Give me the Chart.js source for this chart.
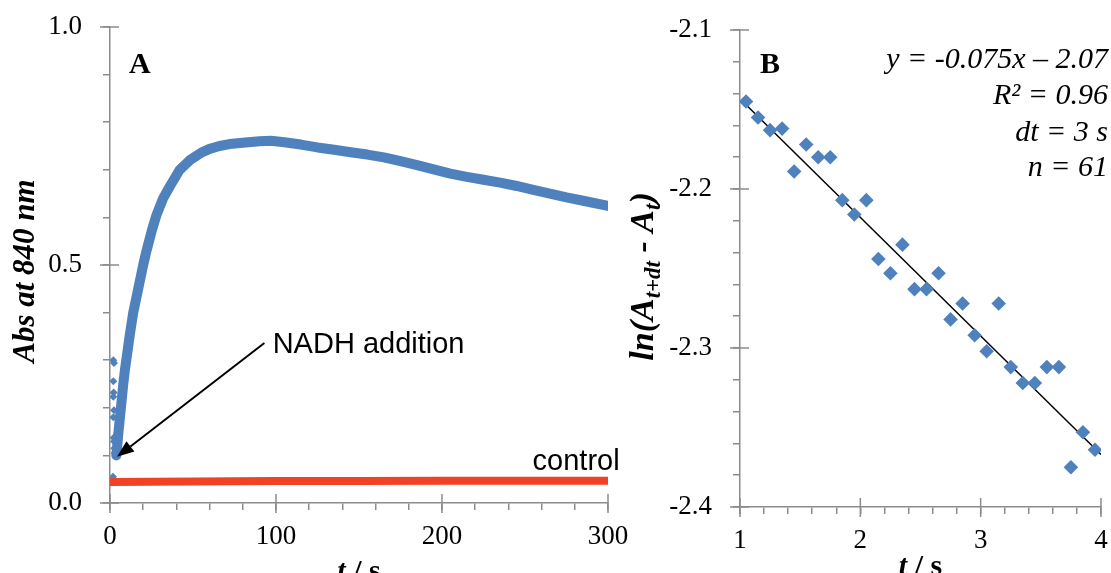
<!DOCTYPE html>
<html>
<head>
<meta charset="utf-8">
<script src="https://cdn.jsdelivr.net/npm/chart.js@4.4.1/dist/chart.umd.min.js"></script>
<style>
  html, body { margin: 0; padding: 0; background: #fff; }
  #wrap { position: relative; width: 1111px; height: 573px; overflow: hidden; }
  #panel-a { position: absolute; left: 0; top: 0; }
  #panel-b { position: absolute; left: 620px; top: 0; }
</style>
</head>
<body>
<div id="wrap">
  <canvas id="panel-a" width="640" height="573"></canvas>
  <canvas id="panel-b" width="491" height="573"></canvas>
</div>
<script>
// Panel A: absorbance at 840 nm vs time
const traceTime = [3.8, 4.5, 5, 6, 7, 8, 9, 10, 12, 14, 17, 20, 22, 25, 28, 32, 36, 42, 48, 55, 60, 66, 72, 80, 90, 97,
                   105, 115, 125, 135, 145, 155, 165, 175, 185, 195, 205, 215, 225, 235, 245, 255, 265, 275, 285, 300];
const traceAbs = [0.100, 0.125, 0.145, 0.180, 0.215, 0.250, 0.280, 0.305, 0.355, 0.400, 0.450, 0.500, 0.530, 0.570, 0.605, 0.640, 0.665, 0.700, 0.720, 0.736, 0.744, 0.750, 0.754, 0.757, 0.760, 0.761,
                  0.758, 0.753, 0.747, 0.742, 0.737, 0.732, 0.726, 0.718, 0.710, 0.701, 0.692, 0.685, 0.679, 0.673, 0.666, 0.658, 0.650, 0.642, 0.635, 0.624];
// scattered readings while mixing, right at the NADH addition
const mixTime = [1.8, 2.0, 2.4, 2.0, 2.2, 2.0, 2.4, 2.0, 2.2, 2.4, 2.6, 2.8];
const mixAbs = [0.055, 0.300, 0.294, 0.256, 0.232, 0.223, 0.195, 0.180, 0.137, 0.129, 0.115, 0.105];
const controlTime = [0, 50, 100, 150, 200, 250, 300];
const controlAbs = [0.044, 0.045, 0.046, 0.046, 0.047, 0.047, 0.047];
const absTicks = [0, 0.5, 1.0];
const timeTicksA = [0, 100, 200, 300];

// Panel B: ln(A(t+dt) - A(t)) vs time
const lnTime = [1.05, 1.15, 1.25, 1.35, 1.45, 1.55, 1.65, 1.75, 1.85, 1.95, 2.05, 2.15, 2.25, 2.35, 2.45,
                2.55, 2.65, 2.75, 2.85, 2.95, 3.05, 3.15, 3.25, 3.35, 3.45, 3.55, 3.65, 3.75, 3.85, 3.95];
const lnDiff = [-2.145, -2.155, -2.163, -2.162, -2.189, -2.172, -2.180, -2.180, -2.207, -2.216, -2.207, -2.244, -2.253, -2.235, -2.263,
                -2.263, -2.253, -2.282, -2.272, -2.292, -2.302, -2.272, -2.312, -2.322, -2.322, -2.312, -2.312, -2.375, -2.353, -2.364];
const fitTime = [1.05, 4.0];
const fitValue = [-2.147, -2.367];
const fitText = ['y = -0.075x \u2013 2.07', 'R\u00B2 = 0.96', 'dt = 3 s', 'n = 61'];
const lnTicks = [-2.4, -2.3, -2.2, -2.1];
const timeTicksB = [1, 2, 3, 4];

const BLUE = '#4F81BD';
const RED = '#F04226';
const AXIS_GREY = '#8C8C8C';
const SERIF = '"Liberation Serif", "Times New Roman", serif';
const SANS = '"Liberation Sans", Arial, sans-serif';

Chart.defaults.font.family = SERIF;
Chart.defaults.color = '#000';

function pairs(xs, ys) {
    return xs.map((x, i) => ({ x: x, y: ys[i] }));
}

function isMajor(v, list) {
    return list.some(m => Math.abs(m - v) < 1e-6);
}

// Excel style axis: small minor ticks outside, major ticks crossing the line
function axisOptions(min, max, step, majors, digits, fitSize, horizontal) {
    return {
        type: 'linear',
        min: min,
        max: max,
        afterFit: (scale) => {
            if (horizontal) { scale.height = fitSize; } else { scale.width = fitSize; }
            // keep the plot area where the layout padding puts it
            scale.paddingTop = 0;
            scale.paddingBottom = 0;
            scale.paddingLeft = 0;
            scale.paddingRight = 0;
        },
        ticks: {
            stepSize: step,
            autoSkip: false,
            maxRotation: 0,
            padding: horizontal ? 11 : 21,
            font: { size: 27 },
            color: '#000',
            callback: (v) => isMajor(v, majors) ? Number(v).toFixed(digits) : ''
        },
        grid: {
            drawOnChartArea: false,
            drawTicks: true,
            tickLength: 7,
            color: AXIS_GREY,
            lineWidth: 1.5
        },
        border: { display: true, color: AXIS_GREY, width: 1.5 }
    };
}

function crossTicks(xMajors, yMajors) {
    return {
        id: 'crossTicks',
        beforeDatasetsDraw(chart) {
            const { ctx, chartArea: a, scales: { x, y } } = chart;
            ctx.save();
            ctx.strokeStyle = AXIS_GREY;
            ctx.lineWidth = 1.5;
            ctx.beginPath();
            xMajors.forEach(v => {
                const px = x.getPixelForValue(v);
                ctx.moveTo(px, a.bottom - 9);
                ctx.lineTo(px, a.bottom + 10);
            });
            yMajors.forEach(v => {
                const py = y.getPixelForValue(v);
                ctx.moveTo(a.left - 10, py);
                ctx.lineTo(a.left + 9, py);
            });
            ctx.stroke();
            ctx.restore();
        }
    };
}

// "t / s" with italic t
function drawTimeTitle(ctx, a, baseline) {
    const parts = [['bold italic 30px ' + SERIF, 't'], ['bold 30px ' + SERIF, ' / s']];
    let width = 0;
    parts.forEach(p => { ctx.font = p[0]; width += ctx.measureText(p[1]).width; });
    let x = (a.left + a.right) / 2 - width / 2;
    ctx.textBaseline = 'alphabetic';
    ctx.textAlign = 'left';
    parts.forEach(p => {
        ctx.font = p[0];
        ctx.fillText(p[1], x, baseline);
        x += ctx.measureText(p[1]).width;
    });
}

const panelAText = {
    id: 'panelAText',
    afterDraw(chart) {
        const { ctx, chartArea: a, scales: { x, y } } = chart;
        ctx.save();
        ctx.fillStyle = '#000';

        ctx.font = 'bold 30px ' + SERIF;
        ctx.textAlign = 'left';
        ctx.textBaseline = 'alphabetic';
        ctx.fillText('A', a.left + 19, a.top + 46);

        drawTimeTitle(ctx, a, 580);

        ctx.save();
        ctx.translate(34, (a.top + a.bottom) / 2 + 6);
        ctx.rotate(-Math.PI / 2);
        ctx.font = 'bold italic 31px ' + SERIF;
        ctx.textAlign = 'center';
        ctx.fillText('Abs at 840 nm', 0, 0);
        ctx.restore();

        ctx.font = '29px ' + SANS;
        ctx.fillText('NADH addition', x.getPixelForValue(98), y.getPixelForValue(0.315));
        ctx.textAlign = 'right';
        ctx.fillText('control', x.getPixelForValue(307), y.getPixelForValue(0.069));

        // arrow towards the start of the trace
        const x0 = x.getPixelForValue(93), y0 = y.getPixelForValue(0.336);
        const x1 = x.getPixelForValue(4.2), y1 = y.getPixelForValue(0.097);
        const ang = Math.atan2(y1 - y0, x1 - x0);
        const head = 17, half = 6.5;
        const bx = x1 - head * Math.cos(ang), by = y1 - head * Math.sin(ang);
        ctx.strokeStyle = '#000';
        ctx.lineWidth = 2;
        ctx.beginPath();
        ctx.moveTo(x0, y0);
        ctx.lineTo(bx, by);
        ctx.stroke();
        ctx.beginPath();
        ctx.moveTo(x1, y1);
        ctx.lineTo(bx + half * Math.sin(ang), by - half * Math.cos(ang));
        ctx.lineTo(bx - half * Math.sin(ang), by + half * Math.cos(ang));
        ctx.closePath();
        ctx.fill();
        ctx.restore();
    }
};

const panelBText = {
    id: 'panelBText',
    afterDraw(chart) {
        const { ctx, chartArea: a } = chart;
        ctx.save();
        ctx.fillStyle = '#000';
        ctx.textBaseline = 'alphabetic';

        ctx.font = 'bold 30px ' + SERIF;
        ctx.textAlign = 'left';
        ctx.fillText('B', a.left + 20, a.top + 43);

        ctx.font = 'italic 30px ' + SERIF;
        ctx.textAlign = 'right';
        const lineY = [38, 74, 111, 146];
        fitText.forEach((t, i) => ctx.fillText(t, a.right + 7, a.top + lineY[i]));

        drawTimeTitle(ctx, a, 575);

        // ln(A_{t+dt} - A_t) with subscripts
        const main = 'bold italic 34px ' + SERIF;
        const sub = 'bold italic 23px ' + SERIF;
        const parts = [[main, 'ln(A', 0], [sub, 't+dt', 7], [main, ' - A', 0], [sub, 't', 7], [main, ')', 0]];
        let width = 0;
        parts.forEach(p => { ctx.font = p[0]; width += ctx.measureText(p[1]).width; });
        ctx.save();
        ctx.translate(33, (a.top + a.bottom) / 2 + 8);
        ctx.rotate(-Math.PI / 2);
        ctx.textAlign = 'left';
        let px = -width / 2;
        parts.forEach(p => {
            ctx.font = p[0];
            ctx.fillText(p[1], px, p[2]);
            px += ctx.measureText(p[1]).width;
        });
        ctx.restore();
        ctx.restore();
    }
};

new Chart(document.getElementById('panel-a'), {
    type: 'scatter',
    data: {
        datasets: [
            {
                label: 'control',
                data: pairs(controlTime, controlAbs),
                showLine: true,
                borderColor: RED,
                borderWidth: 8,
                borderCapStyle: 'round',
                pointRadius: 0
            },
            {
                label: 'mixing',
                data: pairs(mixTime, mixAbs),
                pointStyle: 'rectRot',
                pointRadius: 4,
                backgroundColor: BLUE,
                borderWidth: 0
            },
            {
                label: 'NADH',
                data: pairs(traceTime, traceAbs),
                showLine: true,
                borderColor: BLUE,
                borderWidth: 10,
                borderCapStyle: 'round',
                borderJoinStyle: 'round',
                pointRadius: 0
            }
        ]
    },
    options: {
        responsive: false,
        devicePixelRatio: 1,
        animation: false,
        layout: { padding: { left: 0, right: 32, top: 27, bottom: 0 } },
        plugins: { legend: { display: false }, tooltip: { enabled: false } },
        scales: {
            x: axisOptions(0, 300, 20, timeTicksA, 0, 70, true),
            y: axisOptions(0, 1, 0.1, absTicks, 1, 110, false)
        }
    },
    plugins: [crossTicks(timeTicksA, absTicks), panelAText]
});

new Chart(document.getElementById('panel-b'), {
    type: 'scatter',
    data: {
        datasets: [
            {
                label: 'ln',
                data: pairs(lnTime, lnDiff),
                pointStyle: 'rectRot',
                pointRadius: 7.3,
                backgroundColor: BLUE,
                borderWidth: 0
            },
            {
                label: 'fit',
                data: pairs(fitTime, fitValue),
                showLine: true,
                borderColor: '#000',
                borderWidth: 1.5,
                pointRadius: 0
            }
        ]
    },
    options: {
        responsive: false,
        devicePixelRatio: 1,
        animation: false,
        layout: { padding: { left: 0, right: 10, top: 30, bottom: 0 } },
        plugins: { legend: { display: false }, tooltip: { enabled: false } },
        scales: {
            x: axisOptions(1, 4, 0.2, timeTicksB, 0, 66, true),
            y: axisOptions(-2.4, -2.1, 0.02, lnTicks, 1, 120, false)
        }
    },
    plugins: [crossTicks(timeTicksB, lnTicks), panelBText]
});
</script>
</body>
</html>
